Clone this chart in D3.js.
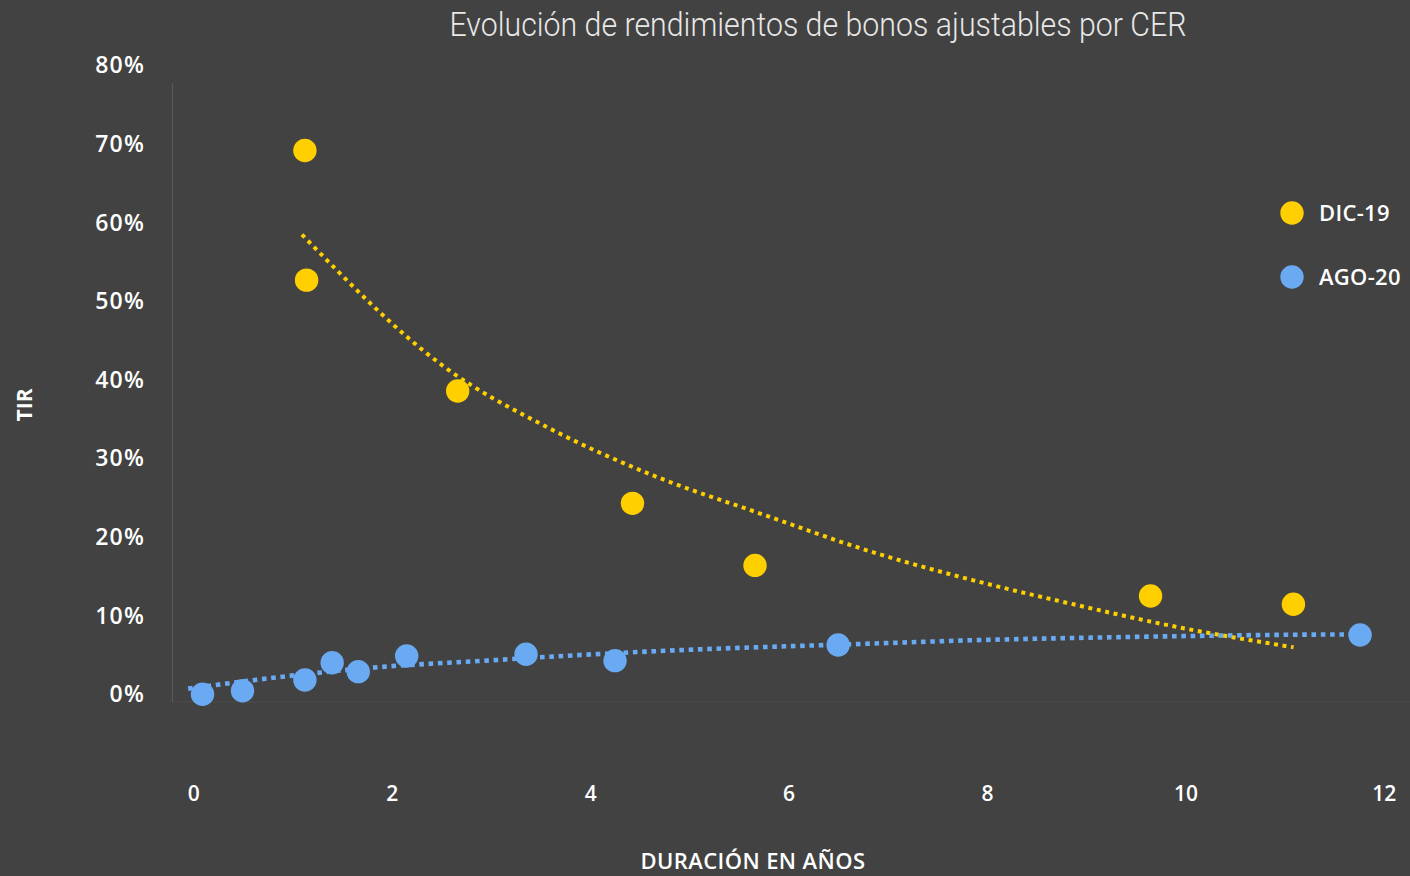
<!DOCTYPE html>
<html>
<head>
<meta charset="utf-8">
<script src="https://cdn.jsdelivr.net/npm/d3@7/dist/d3.min.js"></script>
<style>
  html, body { margin: 0; padding: 0; background: #424242; }
  svg { display: block; }
</style>
</head>
<body>
<svg id="chart" width="1410" height="876"></svg>
<script>
// ---- Data ----
const title = "Evolución de rendimientos de bonos ajustables por CER";
const xTitle = "DURACIÓN EN AÑOS";
const yTitle = "TIR";
const seriesNames = ["DIC-19", "AGO-20"];
const xTicks = [0, 2, 4, 6, 8, 10, 12];
const yTicks = [0, 10, 20, 30, 40, 50, 60, 70, 80];

// DIC-19: duration (years), TIR (%)
const dic19X = [1.125, 1.142, 2.665, 4.427, 5.662, 9.649, 11.089];
const dic19Y = [69.2, 52.7, 38.6, 24.3, 16.4, 12.5, 11.45];
// AGO-20
const ago20X = [0.093, 0.496, 1.125, 1.40, 1.663, 2.151, 3.354, 4.251, 6.50, 11.761];
const ago20Y = [0.0, 0.46, 1.82, 4.02, 2.88, 4.87, 5.09, 4.28, 6.27, 7.55];

// Trend lines
const dic19TrendX = [1.095, 2.537, 3.596, 4.635, 5.715, 6.855, 7.864, 8.873, 9.882, 11.09];
const dic19TrendY = [58.5, 41.6, 33.8, 27.85, 23.0, 18.06, 14.5, 11.45, 8.65, 5.98];
const ago20TrendX = [-0.052, 0.873, 1.881, 2.890, 3.899, 4.706, 6.825, 7.834, 8.842, 9.851, 11.19, 11.76];
const ago20TrendY = [0.72, 2.20, 3.47, 4.24, 5.00, 5.51, 6.45, 6.87, 7.16, 7.38, 7.59, 7.62];

// ---- Styles ----
const colors = ["#ffcf00", "#6aaaf2"];
const bg = "#424242";

const svg = d3.select("#chart");
const W = 1410, H = 876;

const x = d3.scaleLinear().domain([0, 12]).range([193.3, 1383.8]);
const y = d3.scaleLinear().domain([0, 80]).range([694.3, 65.6]);

svg.append("rect").attr("width", W).attr("height", H).attr("fill", bg);

// axis lines
svg.append("line")
  .attr("x1", 172.5).attr("x2", 172.5).attr("y1", 83).attr("y2", 702)
  .attr("stroke", "#585858").attr("stroke-width", 1.2);
svg.append("line")
  .attr("x1", 172.5).attr("x2", W).attr("y1", 702).attr("y2", 702)
  .attr("stroke", "#4c4c4c").attr("stroke-width", 1);

// Title
svg.append("text")
  .attr("x", 818).attr("y", 36)
  .attr("text-anchor", "middle")
  .attr("font-family", "Roboto")
  .attr("font-weight", 300)
  .attr("font-size", 33)
  .attr("fill", "#e8e8e8")
  .attr("textLength", 737)
  .attr("lengthAdjust", "spacingAndGlyphs")
  .text(title);

// Y axis labels
const yAxis = d3.axisLeft(y)
  .tickValues(yTicks)
  .tickSize(0)
  .tickPadding(0)
  .tickFormat(d => d + "%");
const gy = svg.append("g").attr("transform", "translate(145,0)").call(yAxis);
gy.select(".domain").remove();
gy.selectAll("text")
  .attr("font-family", "Open Sans")
  .attr("font-weight", 600)
  .attr("font-size", 23)
  .attr("letter-spacing", 1.2)
  .attr("fill", "#ffffff");

// X axis labels
const xAxis = d3.axisBottom(x)
  .tickValues(xTicks)
  .tickSize(0)
  .tickPadding(0)
  .tickFormat(d => d);
const gx = svg.append("g").attr("transform", "translate(0,794)").call(xAxis);
gx.select(".domain").remove();
gx.selectAll("text")
  .attr("dy", "0.35em")
  .attr("font-family", "Open Sans")
  .attr("font-weight", 600)
  .attr("font-size", 21)
  .attr("fill", "#ffffff");

// Axis titles
svg.append("text")
  .attr("transform", "translate(24,405) rotate(-90)")
  .attr("text-anchor", "middle")
  .attr("dominant-baseline", "central")
  .attr("font-family", "Open Sans")
  .attr("font-weight", 700)
  .attr("font-size", 21)
  .attr("fill", "#ffffff")
  .text(yTitle);

svg.append("text")
  .attr("x", 753).attr("y", 869)
  .attr("text-anchor", "middle")
  .attr("font-family", "Open Sans")
  .attr("font-weight", 600)
  .attr("font-size", 22)
  .attr("letter-spacing", 0.4)
  .attr("fill", "#ffffff")
  .text(xTitle);

// Trend lines
const line = d3.line().x(d => x(d[0])).y(d => y(d[1])).curve(d3.curveMonotoneX);
svg.append("path")
  .datum(d3.zip(dic19TrendX, dic19TrendY))
  .attr("d", line)
  .attr("fill", "none")
  .attr("stroke", colors[0])
  .attr("stroke-width", 4)
  .attr("stroke-dasharray", "4 4.6");
svg.append("path")
  .datum(d3.zip(ago20TrendX, ago20TrendY))
  .attr("d", line)
  .attr("fill", "none")
  .attr("stroke", colors[1])
  .attr("stroke-width", 4.6)
  .attr("stroke-dasharray", "4.6 4.7");

// Points
const r = 11.7;
svg.append("g").selectAll("circle")
  .data(d3.zip(ago20X, ago20Y))
  .join("circle")
  .attr("cx", d => x(d[0])).attr("cy", d => y(d[1])).attr("r", r)
  .attr("fill", colors[1]);
svg.append("g").selectAll("circle")
  .data(d3.zip(dic19X, dic19Y))
  .join("circle")
  .attr("cx", d => x(d[0])).attr("cy", d => y(d[1])).attr("r", r)
  .attr("fill", colors[0]);

// Legend
const legendY = [212, 276];
const lg = svg.append("g");
seriesNames.forEach((name, i) => {
  lg.append("circle").attr("cx", 1292).attr("cy", legendY[i] + 1).attr("r", r).attr("fill", colors[i]);
  lg.append("text")
    .attr("x", 1319).attr("y", legendY[i])
    .attr("dominant-baseline", "central")
    .attr("font-family", "Open Sans")
    .attr("font-weight", 600)
    .attr("font-size", 22)
    .attr("letter-spacing", 0.3)
    .attr("fill", "#ffffff")
    .text(name);
});
</script>
</body>
</html>
